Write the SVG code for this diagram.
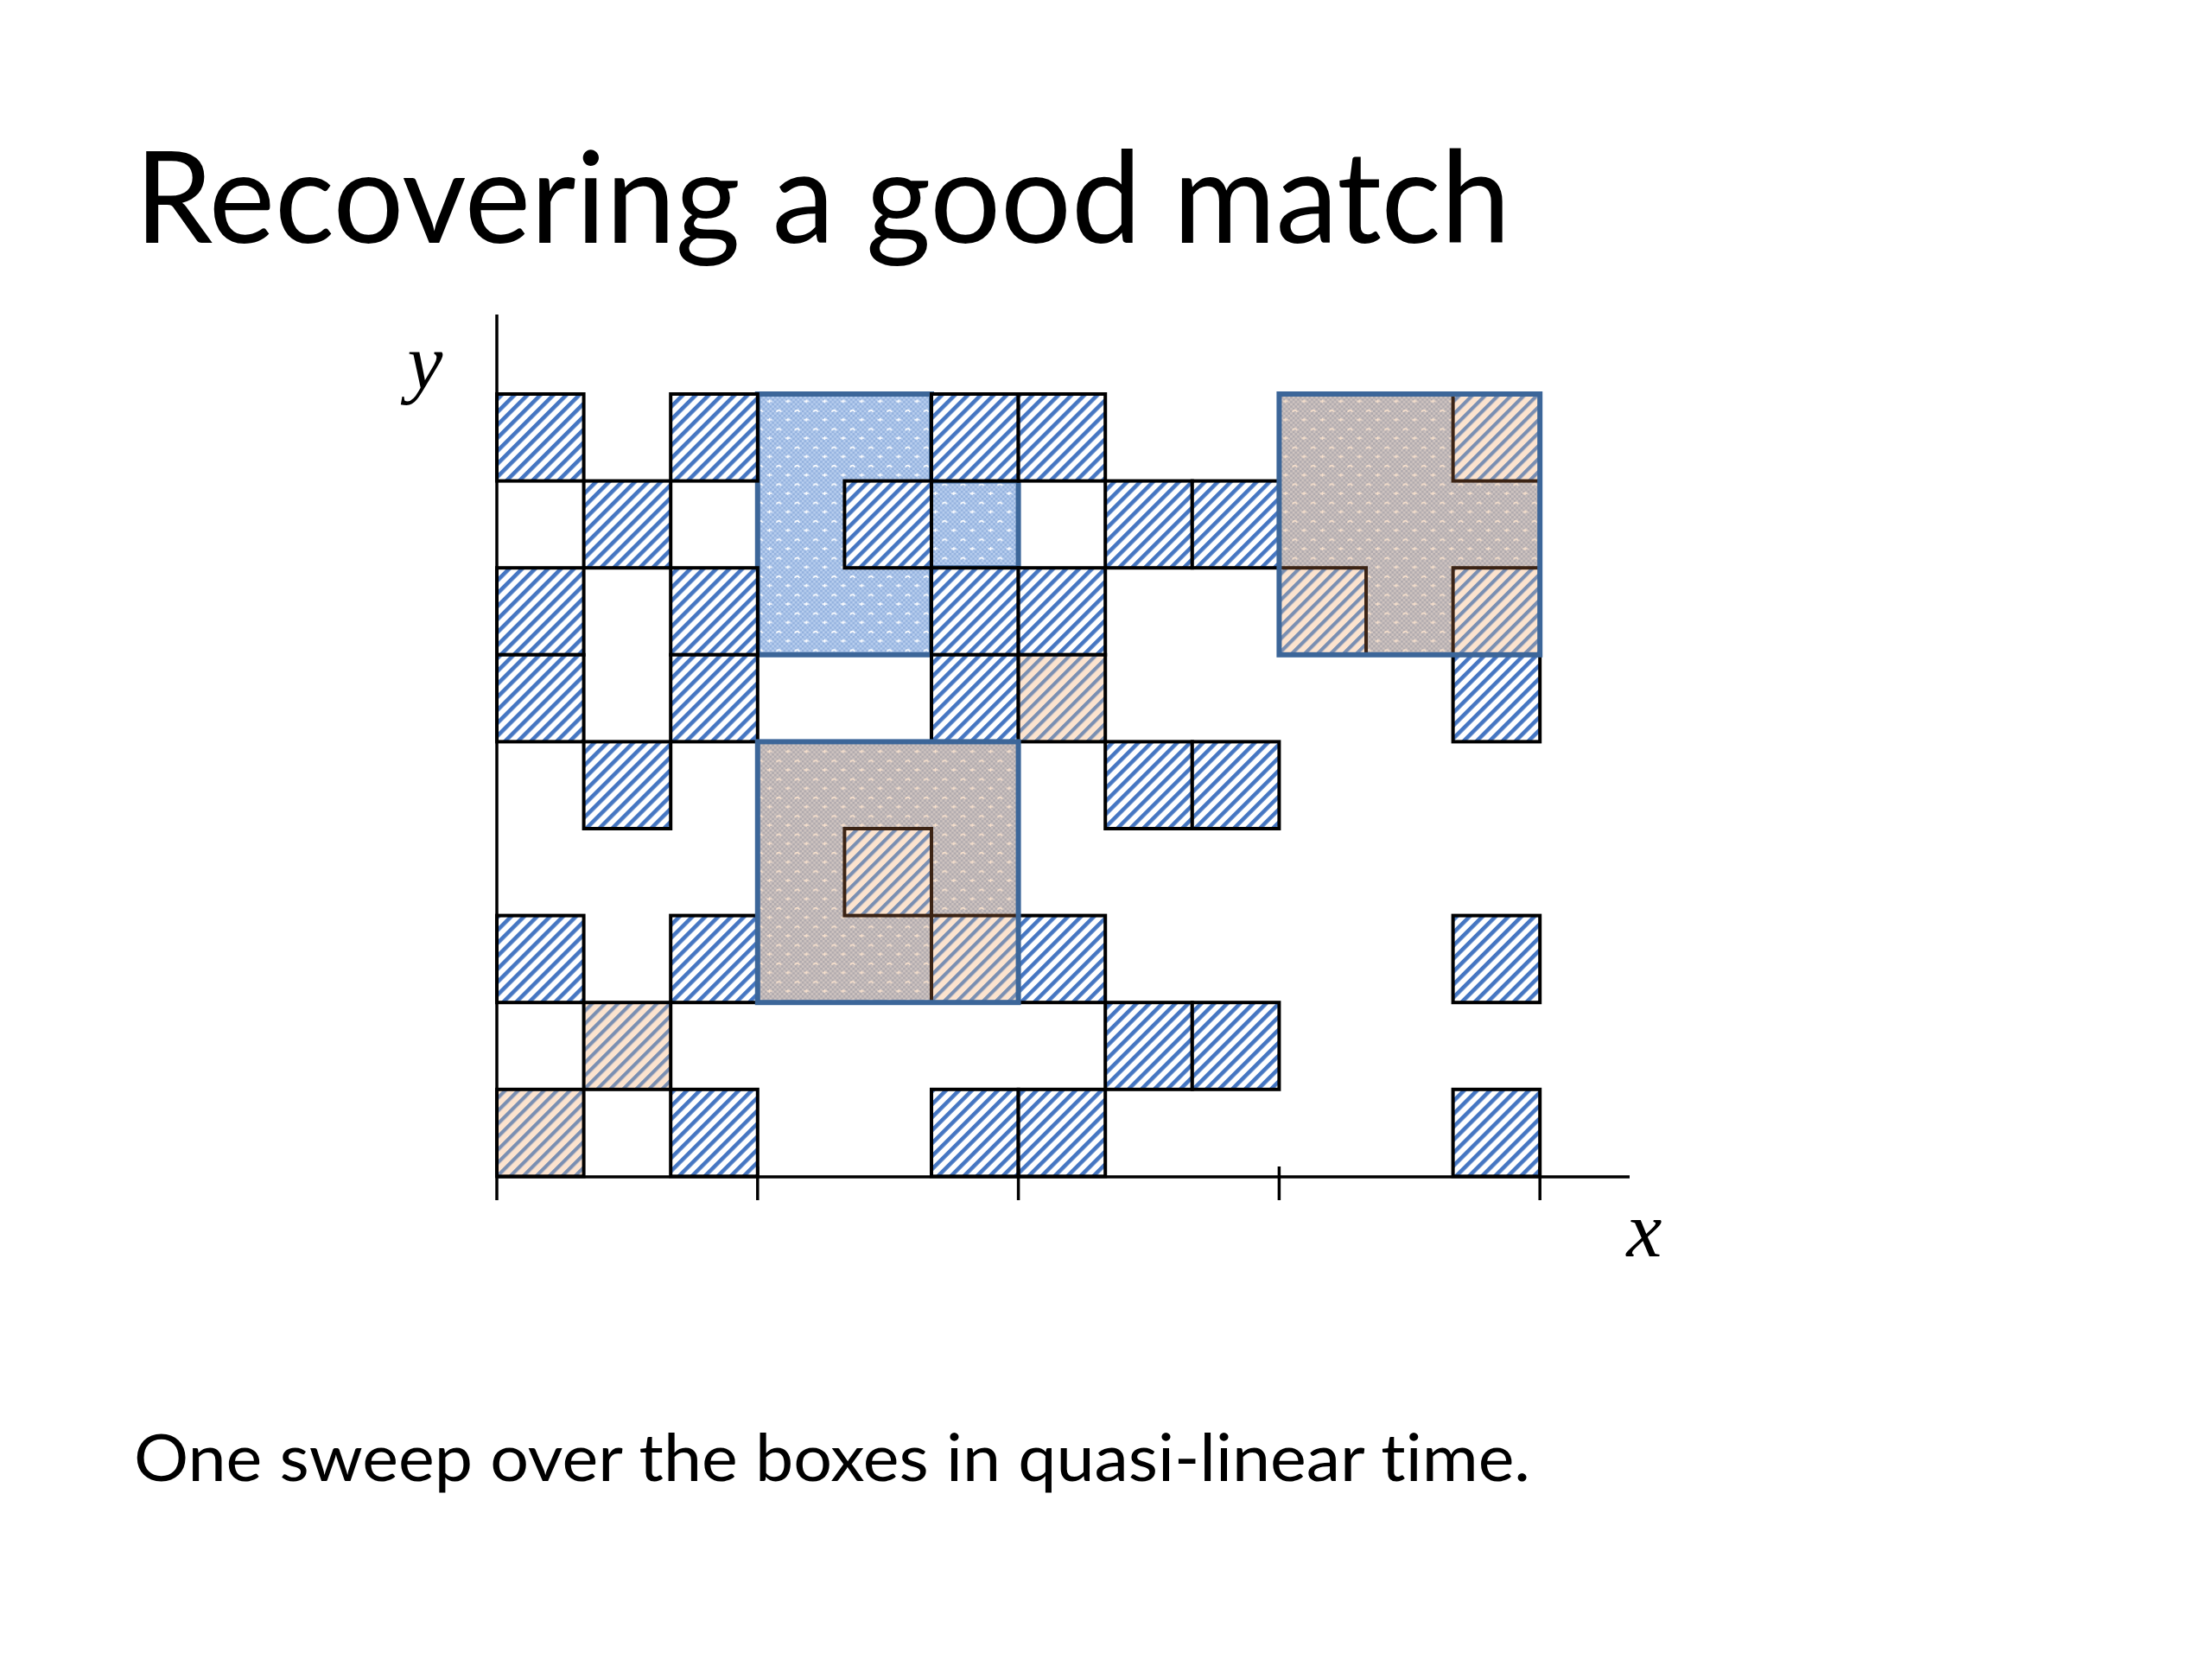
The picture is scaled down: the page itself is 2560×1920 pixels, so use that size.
<svg xmlns="http://www.w3.org/2000/svg" width="2560" height="1920" viewBox="0 0 2560 1920">
<defs>
  <pattern id="hatchBlue" patternUnits="userSpaceOnUse" width="10.6" height="10.6" patternTransform="rotate(-45)">
    <rect x="0" y="0" width="10.6" height="10.6" fill="#ffffff"/>
    <rect x="0" y="0" width="10.6" height="4.6" fill="#4576C2"/>
  </pattern>
  <pattern id="hatchPeach" patternUnits="userSpaceOnUse" width="10.6" height="10.6" patternTransform="rotate(-45)">
    <rect x="0" y="0" width="10.6" height="10.6" fill="#FCE3CE"/>
    <rect x="0" y="0" width="10.6" height="4.2" fill="#7A8FB2"/>
  </pattern>
  <pattern id="chkBlue" patternUnits="userSpaceOnUse" width="5.33" height="5.33">
    <rect x="0" y="0" width="5.33" height="5.33" fill="#B9CFEF"/>
    <rect x="0" y="0" width="2.67" height="2.67" fill="#93B1DE"/>
    <rect x="2.67" y="2.67" width="2.67" height="2.67" fill="#93B1DE"/>
  </pattern>
  <pattern id="chkBrown" patternUnits="userSpaceOnUse" width="5.33" height="5.33">
    <rect x="0" y="0" width="5.33" height="5.33" fill="#D0C5C1"/>
    <rect x="0" y="0" width="2.67" height="2.67" fill="#AFA9AD"/>
    <rect x="2.67" y="2.67" width="2.67" height="2.67" fill="#AFA9AD"/>
  </pattern>
  <pattern id="dotBlue" patternUnits="userSpaceOnUse" width="21.33" height="21.33">
    <rect x="0" y="0" width="21.33" height="21.33" fill="url(#chkBlue)"/>
    <path d="M2.5,7.5 Q5.3,3.5 8.2,7.5" fill="none" stroke="#ffffff" stroke-width="1.6"/>
    <path d="M13,16.5 H19 M16,14.5 V18.5" fill="none" stroke="#ffffff" stroke-width="1.4"/>
  </pattern>
  <pattern id="dotBrown" patternUnits="userSpaceOnUse" width="21.33" height="21.33">
    <rect x="0" y="0" width="21.33" height="21.33" fill="url(#chkBrown)"/>
    <path d="M2.5,7.5 Q5.3,3.5 8.2,7.5" fill="none" stroke="#F7E0CC" stroke-width="1.6"/>
    <path d="M13,16.5 H19 M16,14.5 V18.5" fill="none" stroke="#F7E0CC" stroke-width="1.4"/>
  </pattern>
  <style>
    .hb { fill: url(#hatchBlue); stroke: #000; stroke-width: 4; stroke-linejoin: miter; }
    .hp { fill: url(#hatchPeach); stroke: #000; stroke-width: 4; }
    .hpi { fill: url(#hatchPeach); stroke: #3B2314; stroke-width: 4; }
    .regA { fill: url(#dotBlue); stroke: #3C6699; stroke-width: 6; }
    .regFill { fill: url(#dotBrown); stroke: none; }
    .regLine { fill: none; stroke: #3C6699; stroke-width: 6; }
    .axis { stroke: #000; stroke-width: 3.5; fill: none; }
    .title { font-family: Lato, "Open Sans", "Liberation Sans", sans-serif; font-size: 148px; fill: #000; font-variant-ligatures: none; }
    .body { font-family: Lato, "Open Sans", "Liberation Sans", sans-serif; font-size: 76px; fill: #000; font-variant-ligatures: none; }
    .var { font-family: "Liberation Serif", "DejaVu Serif", serif; font-style: italic; font-size: 92px; fill: #000; }
  </style>
</defs>
<rect x="0" y="0" width="2560" height="1920" fill="#ffffff"/>

<text id="title" class="title" x="156" y="281" textLength="1592" lengthAdjust="spacingAndGlyphs">Recovering a good match</text>

<!-- Region A: blue dotted area (drawn beneath boxes) -->
<g id="region-blue">
  <polygon class="regA" points="876.8,456 1078,456 1078,556.6 1178.6,556.6 1178.6,657.2 1078,657.2 1078,757.8 876.8,757.8"/>
</g>

<!-- Blue hatched boxes -->
<g id="box-0-0"><rect class="hb" x="575" y="456" width="100.6" height="100.6"/></g>
<g id="box-2-0"><rect class="hb" x="776.2" y="456" width="100.6" height="100.6"/></g>
<g id="box-5-0"><rect class="hb" x="1078" y="456" width="100.6" height="100.6"/></g>
<g id="box-6-0"><rect class="hb" x="1178.6" y="456" width="100.6" height="100.6"/></g>

<g id="box-1-1"><rect class="hb" x="675.6" y="556.6" width="100.6" height="100.6"/></g>
<g id="box-4-1"><rect class="hb" x="977.4" y="556.6" width="100.6" height="100.6"/></g>
<g id="box-7-1"><rect class="hb" x="1279.2" y="556.6" width="100.6" height="100.6"/></g>
<g id="box-8-1"><rect class="hb" x="1379.8" y="556.6" width="100.6" height="100.6"/></g>

<g id="box-0-2"><rect class="hb" x="575" y="657.2" width="100.6" height="100.6"/></g>
<g id="box-2-2"><rect class="hb" x="776.2" y="657.2" width="100.6" height="100.6"/></g>
<g id="box-5-2"><rect class="hb" x="1078" y="657.2" width="100.6" height="100.6"/></g>
<g id="box-6-2"><rect class="hb" x="1178.6" y="657.2" width="100.6" height="100.6"/></g>

<g id="box-0-3"><rect class="hb" x="575" y="757.8" width="100.6" height="100.6"/></g>
<g id="box-2-3"><rect class="hb" x="776.2" y="757.8" width="100.6" height="100.6"/></g>
<g id="box-5-3"><rect class="hb" x="1078" y="757.8" width="100.6" height="100.6"/></g>
<g id="box-6-3"><rect class="hp" x="1178.6" y="757.8" width="100.6" height="100.6"/></g>
<g id="box-11-3"><rect class="hb" x="1681.6" y="757.8" width="100.6" height="100.6"/></g>

<g id="box-1-4"><rect class="hb" x="675.6" y="858.4" width="100.6" height="100.6"/></g>
<g id="box-7-4"><rect class="hb" x="1279.2" y="858.4" width="100.6" height="100.6"/></g>
<g id="box-8-4"><rect class="hb" x="1379.8" y="858.4" width="100.6" height="100.6"/></g>

<g id="box-0-6"><rect class="hb" x="575" y="1059.6" width="100.6" height="100.6"/></g>
<g id="box-2-6"><rect class="hb" x="776.2" y="1059.6" width="100.6" height="100.6"/></g>
<g id="box-6-6"><rect class="hb" x="1178.6" y="1059.6" width="100.6" height="100.6"/></g>
<g id="box-11-6"><rect class="hb" x="1681.6" y="1059.6" width="100.6" height="100.6"/></g>

<g id="box-1-7"><rect class="hp" x="675.6" y="1160.2" width="100.6" height="100.6"/></g>
<g id="box-7-7"><rect class="hb" x="1279.2" y="1160.2" width="100.6" height="100.6"/></g>
<g id="box-8-7"><rect class="hb" x="1379.8" y="1160.2" width="100.6" height="100.6"/></g>

<g id="box-0-8"><rect class="hp" x="575" y="1260.8" width="100.6" height="100.6"/></g>
<g id="box-2-8"><rect class="hb" x="776.2" y="1260.8" width="100.6" height="100.6"/></g>
<g id="box-5-8"><rect class="hb" x="1078" y="1260.8" width="100.6" height="100.6"/></g>
<g id="box-6-8"><rect class="hb" x="1178.6" y="1260.8" width="100.6" height="100.6"/></g>
<g id="box-11-8"><rect class="hb" x="1681.6" y="1260.8" width="100.6" height="100.6"/></g>

<!-- Region B: lower brown match -->
<g id="region-brown-low">
  <rect class="regFill" x="876.8" y="858.4" width="301.8" height="301.8"/>
  <rect class="hpi" x="977.4" y="959" width="100.6" height="100.6"/>
  <rect class="hpi" x="1078" y="1059.6" width="100.6" height="100.6"/>
  <rect class="regLine" x="876.8" y="858.4" width="301.8" height="301.8"/>
</g>

<!-- Region C: upper-right brown match -->
<g id="region-brown-top">
  <rect class="regFill" x="1480.4" y="456" width="301.8" height="301.8"/>
  <rect class="hpi" x="1681.6" y="456" width="100.6" height="100.6"/>
  <rect class="hpi" x="1480.4" y="657.2" width="100.6" height="100.6"/>
  <rect class="hpi" x="1681.6" y="657.2" width="100.6" height="100.6"/>
  <rect class="regLine" x="1480.4" y="456" width="301.8" height="301.8"/>
</g>

<!-- Axes -->
<g id="axes">
  <line class="axis" x1="575" y1="364" x2="575" y2="1389"/>
  <line class="axis" x1="575" y1="1362" x2="1886" y2="1362"/>
  <line class="axis" x1="876.8" y1="1350" x2="876.8" y2="1389"/>
  <line class="axis" x1="1178.6" y1="1350" x2="1178.6" y2="1389"/>
  <line class="axis" x1="1480.4" y1="1350" x2="1480.4" y2="1389"/>
  <line class="axis" x1="1782.2" y1="1350" x2="1782.2" y2="1389"/>
</g>

<text id="label-y" class="var" x="492" y="450" text-anchor="middle">y</text>
<text id="label-x" class="var" x="1903" y="1454" text-anchor="middle">x</text>

<text id="caption" class="body" x="155" y="1714" textLength="1616" lengthAdjust="spacingAndGlyphs">One sweep over the boxes in quasi-linear time.</text>
</svg>
